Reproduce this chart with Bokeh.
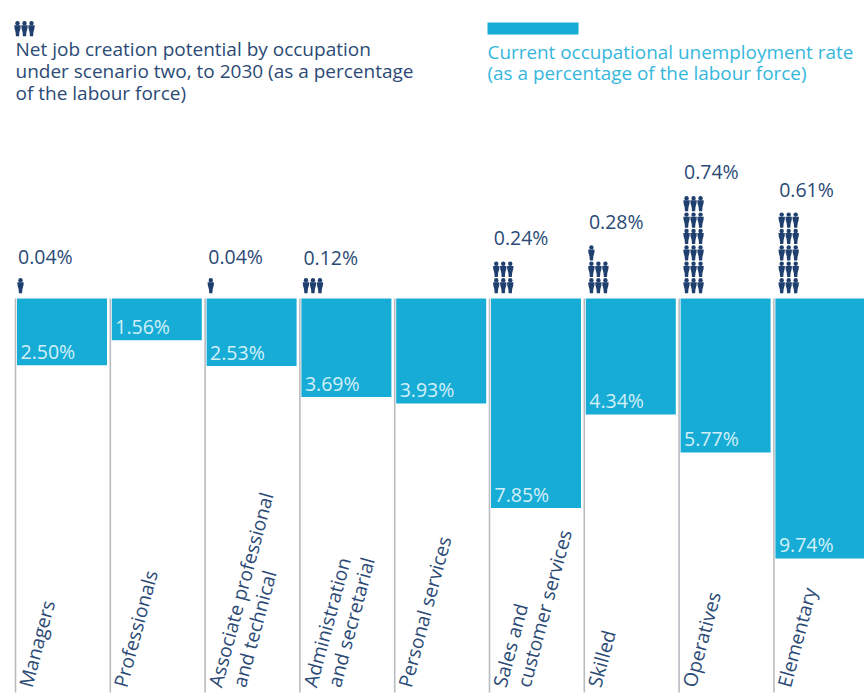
from bokeh.core.properties import value
from bokeh.embed import file_html
from bokeh.models import Range1d
from bokeh.plotting import figure
from bokeh.resources import INLINE

occupations = [
    ["Managers"],
    ["Professionals"],
    ["Associate professional", "and technical"],
    ["Administration", "and secretarial"],
    ["Personal services"],
    ["Sales and", "customer services"],
    ["Skilled"],
    ["Operatives"],
    ["Elementary"],
]
unemployment = [2.50, 1.56, 2.53, 3.69, 3.93, 7.85, 4.34, 5.77, 9.74]
job_creation = [0.04, None, 0.04, 0.12, None, 0.24, 0.28, 0.74, 0.61]
icon_counts = [1, 0, 1, 3, 0, 6, 7, 18, 15]

TITLE_LINES = ["Net job creation potential by occupation",
               "under scenario two, to 2030 (as a percentage",
               "of the labour force)"]
LEGEND_LINES = ["Current occupational unemployment rate",
                "(as a percentage of the labour force)"]

NAVY = "#2b4a75"
ICON_NAVY = "#1f3f6e"
CYAN = "#17acd6"
LEGEND_CYAN = "#35b7dc"
PALE = "#d3f0f8"
GREY = "#b8bcc0"
FONT = value("Open Sans")

W, H, MARGIN = 864, 700, 0
PITCH, PER_PCT, ORIGIN_X, ZERO_Y = 94.8, 26.7, 61.5, 298.0


def dx(px):
    return (px - ORIGIN_X) / PITCH


def dy(py):
    return (py - ZERO_Y) / PER_PCT


p = figure(width=W, height=H, output_backend="svg", toolbar_location=None,
           x_range=Range1d(dx(MARGIN), dx(MARGIN + W)),
           y_range=Range1d(dy(MARGIN + H), dy(MARGIN)),
           min_border=0, outline_line_color=None)
p.axis.visible = False
p.grid.visible = False

idx = list(range(len(unemployment)))
grid_x = [i + dx(15) for i in idx]
p.segment(grid_x, [0] * len(idx), grid_x, [dy(692)] * len(idx),
          line_color=GREY, line_width=1.6)
p.vbar(x=idx, width=90 / PITCH, top=[0] * len(idx), bottom=unemployment,
       fill_color=CYAN, line_color=None)
p.text(x=[i + dx(20) for i in idx], y=[v - 14 / PER_PCT for v in unemployment],
       text=[f"{v:.2f}%" for v in unemployment],
       text_color=PALE, text_font=FONT, text_font_size="19.5px",
       text_baseline="alphabetic", text_align="left")

# people icons: one figure per 0.04 points
ICON_BODY = [(-3.2, 0), (3.2, 0), (3.0, 3), (1.9, 7), (1.6, 11), (-1.6, 11), (-1.9, 7), (-3.0, 3)]


def icon(cx, top):
    xs = [dx(cx + a) for a, _ in ICON_BODY]
    ys = [dy(top + 3.8 + b) for _, b in ICON_BODY]
    return xs, ys, dx(cx), dy(top + 1.7)


def draw_icons(cells):
    shapes = [icon(cx, top) for cx, top in cells]
    p.patches([s[0] for s in shapes], [s[1] for s in shapes], fill_color=ICON_NAVY, line_color=None)
    p.scatter([s[2] for s in shapes], [s[3] for s in shapes], size=4.4, marker="circle",
              fill_color=ICON_NAVY, line_color=None)


cells = []
for i, n in enumerate(icon_counts):
    left = ORIGIN_X + i * PITCH - 41.5 + 0.35 * i
    for k in range(n):
        row, col = k // 3, k % 3
        cells.append((left + col * 7, 278 - row * 16.4))
cells += [(17 + col * 7, 21) for col in range(3)]
draw_icons(cells)

# job-creation labels, placed above each icon stack
LABEL_GAP = [23, 0, 23, 22, 0, 25, 25, 27, 25]
for i, (v, n) in enumerate(zip(job_creation, icon_counts)):
    if v is None:
        continue
    rows = (n + 2) // 3
    base = 278.5 - (rows - 1) * 16.2 - LABEL_GAP[i]
    p.text(x=[i + dx(17.5 + 0.35 * i)], y=[dy(base)], text=[f"{v:.2f}%"], text_color=NAVY,
           text_font=FONT, text_font_size="19.5px", text_baseline="alphabetic", text_align="left")

# rotated occupation labels
for i, lines in enumerate(occupations):
    for j, line in enumerate(lines):
        p.text(x=[i + dx(24.5 + j * 24)], y=[dy(686)], text=[line], angle=75, angle_units="deg",
               text_color=NAVY, text_font=FONT, text_font_size="19.3px",
               text_align="left", text_baseline="alphabetic")

# header and legend
p.text(x=[dx(15)] * 3, y=[dy(48 + 22 * k) for k in range(3)], text=TITLE_LINES,
       text_color=NAVY, text_font=FONT, text_font_size="19px",
       text_baseline="alphabetic", text_align="left")
p.quad(left=[dx(487)], right=[dx(578)], top=[dy(22)], bottom=[dy(34)],
       fill_color=CYAN, line_color=None)
p.text(x=[dx(487)] * 2, y=[dy(51 + 21 * k) for k in range(2)], text=LEGEND_LINES,
       text_color=LEGEND_CYAN, text_font=FONT, text_font_size="18.9px",
       text_baseline="alphabetic", text_align="left")

open("out.html", "w").write(file_html(p, INLINE))
